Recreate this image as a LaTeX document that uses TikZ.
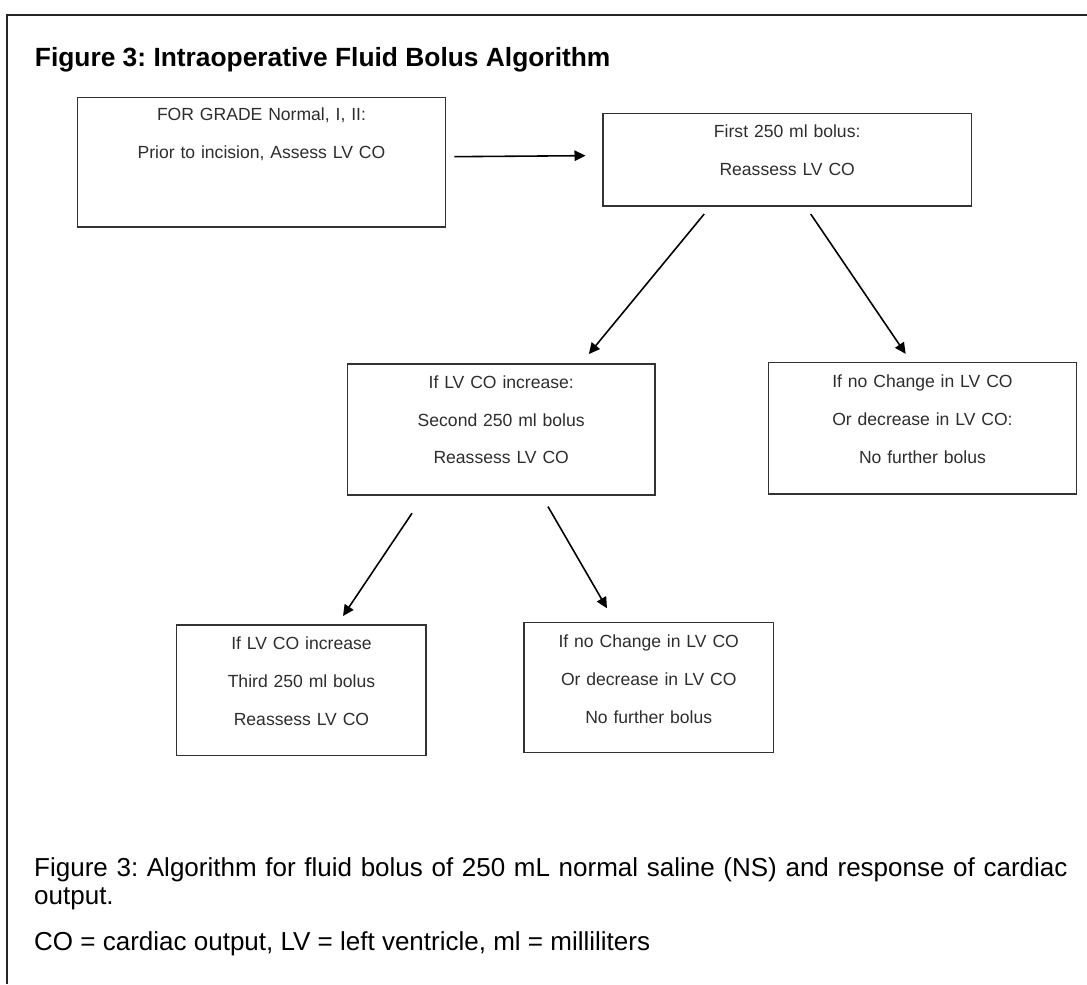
\documentclass[tikz,border=0pt]{standalone}
\usepackage{fontspec}
\setmainfont{Liberation Sans}
\frenchspacing
\usetikzlibrary{arrows.meta}
\definecolor{edgegray}{RGB}{51,51,51}
\definecolor{txtgray}{RGB}{45,45,45}
\tikzset{bx/.append style={draw=edgegray, line width=0.85pt, inner sep=0pt, align=center, anchor=north west, text=txtgray, font=\fontsize{10}{21.6}\selectfont}}
\tikzset{ar/.append style={-{Triangle[length=0.22cm,width=0.21cm]}, line width=0.9pt}}

\begin{document}
\begin{tikzpicture}[x=0.02cm,y=-0.02cm]
                \useasboundingbox (0,0) rectangle (1087,984);
                \draw[line width=1.1pt, black!85] (1087,14.7) -| (7.3,984);
                \node[anchor=base west, font=\bfseries\fontsize{15}{18}\selectfont] (title) at (28.7,66) {Figure 3: Intraoperative Fluid Bolus Algorithm};
                % boxes
                \node[bx, text width=7.37cm, text height=0.47cm, text depth=2.13cm] (a) at (76.5,96.5) {FOR GRADE Normal, I, II:\\Prior to incision, Assess LV CO};
                \node[bx, text width=7.38cm, text height=0.48cm, text depth=1.37cm] (b) at (602,112.7) {First 250 ml bolus:\\Reassess LV CO};
                \node[bx, text width=6.16cm, text height=0.48cm, text depth=2.14cm] (c) at (346.5,363.3) {If LV CO increase:\\Second 250 ml bolus\\Reassess LV CO};
                \node[bx, text width=6.17cm, text height=0.5cm, text depth=2.13cm] (d) at (767.5,361.7) {If no Change in LV CO\\Or decrease in LV CO:\\No further bolus};
                \node[bx, text width=4.99cm, text height=0.49cm, text depth=2.12cm] (e) at (176,624.3) {If LV CO increase\\Third 250 ml bolus\\Reassess LV CO};
                \node[bx, text width=5cm, text height=0.5cm, text depth=2.1cm] (f) at (523,621.7) {If no Change in LV CO\\Or decrease in LV CO\\No further bolus};
                % arrows
                \draw[ar, shorten <=0.16cm, shorten >=0.33cm] ([yshift=0.11cm]a.east) -- ([yshift=0.083cm]b.west);
                \draw[ar, shorten <=0.19cm, shorten >=0.24cm] ([xshift=-1.54cm]b.south) -- ([xshift=1.6cm]c.north);
                \draw[ar, shorten <=0.18cm, shorten >=0.19cm] ([xshift=0.37cm]b.south) -- ([xshift=-0.23cm]d.north);
                \draw[ar, shorten <=0.42cm, shorten >=0.2cm] ([xshift=-1.55cm]c.south) -- ([xshift=0.72cm]e.north);
                \draw[ar, shorten <=0.25cm, shorten >=0.31cm] ([xshift=0.81cm]c.south) -- ([xshift=-0.68cm]f.north);
                % caption
                \node[anchor=base west, text width=21.2cm, align=left, font=\fontsize{14.8}{16}\selectfont] (cap) at (28,876) {Figure 3: Algorithm for fluid bolus of 250 mL normal saline (NS) and response of cardiac\\output.};
                \node[anchor=base west, font=\fontsize{14.8}{18}\selectfont] (key) at (28,950) {CO = cardiac output, LV = left ventricle, ml = milliliters};
            \end{tikzpicture}
\end{document}
